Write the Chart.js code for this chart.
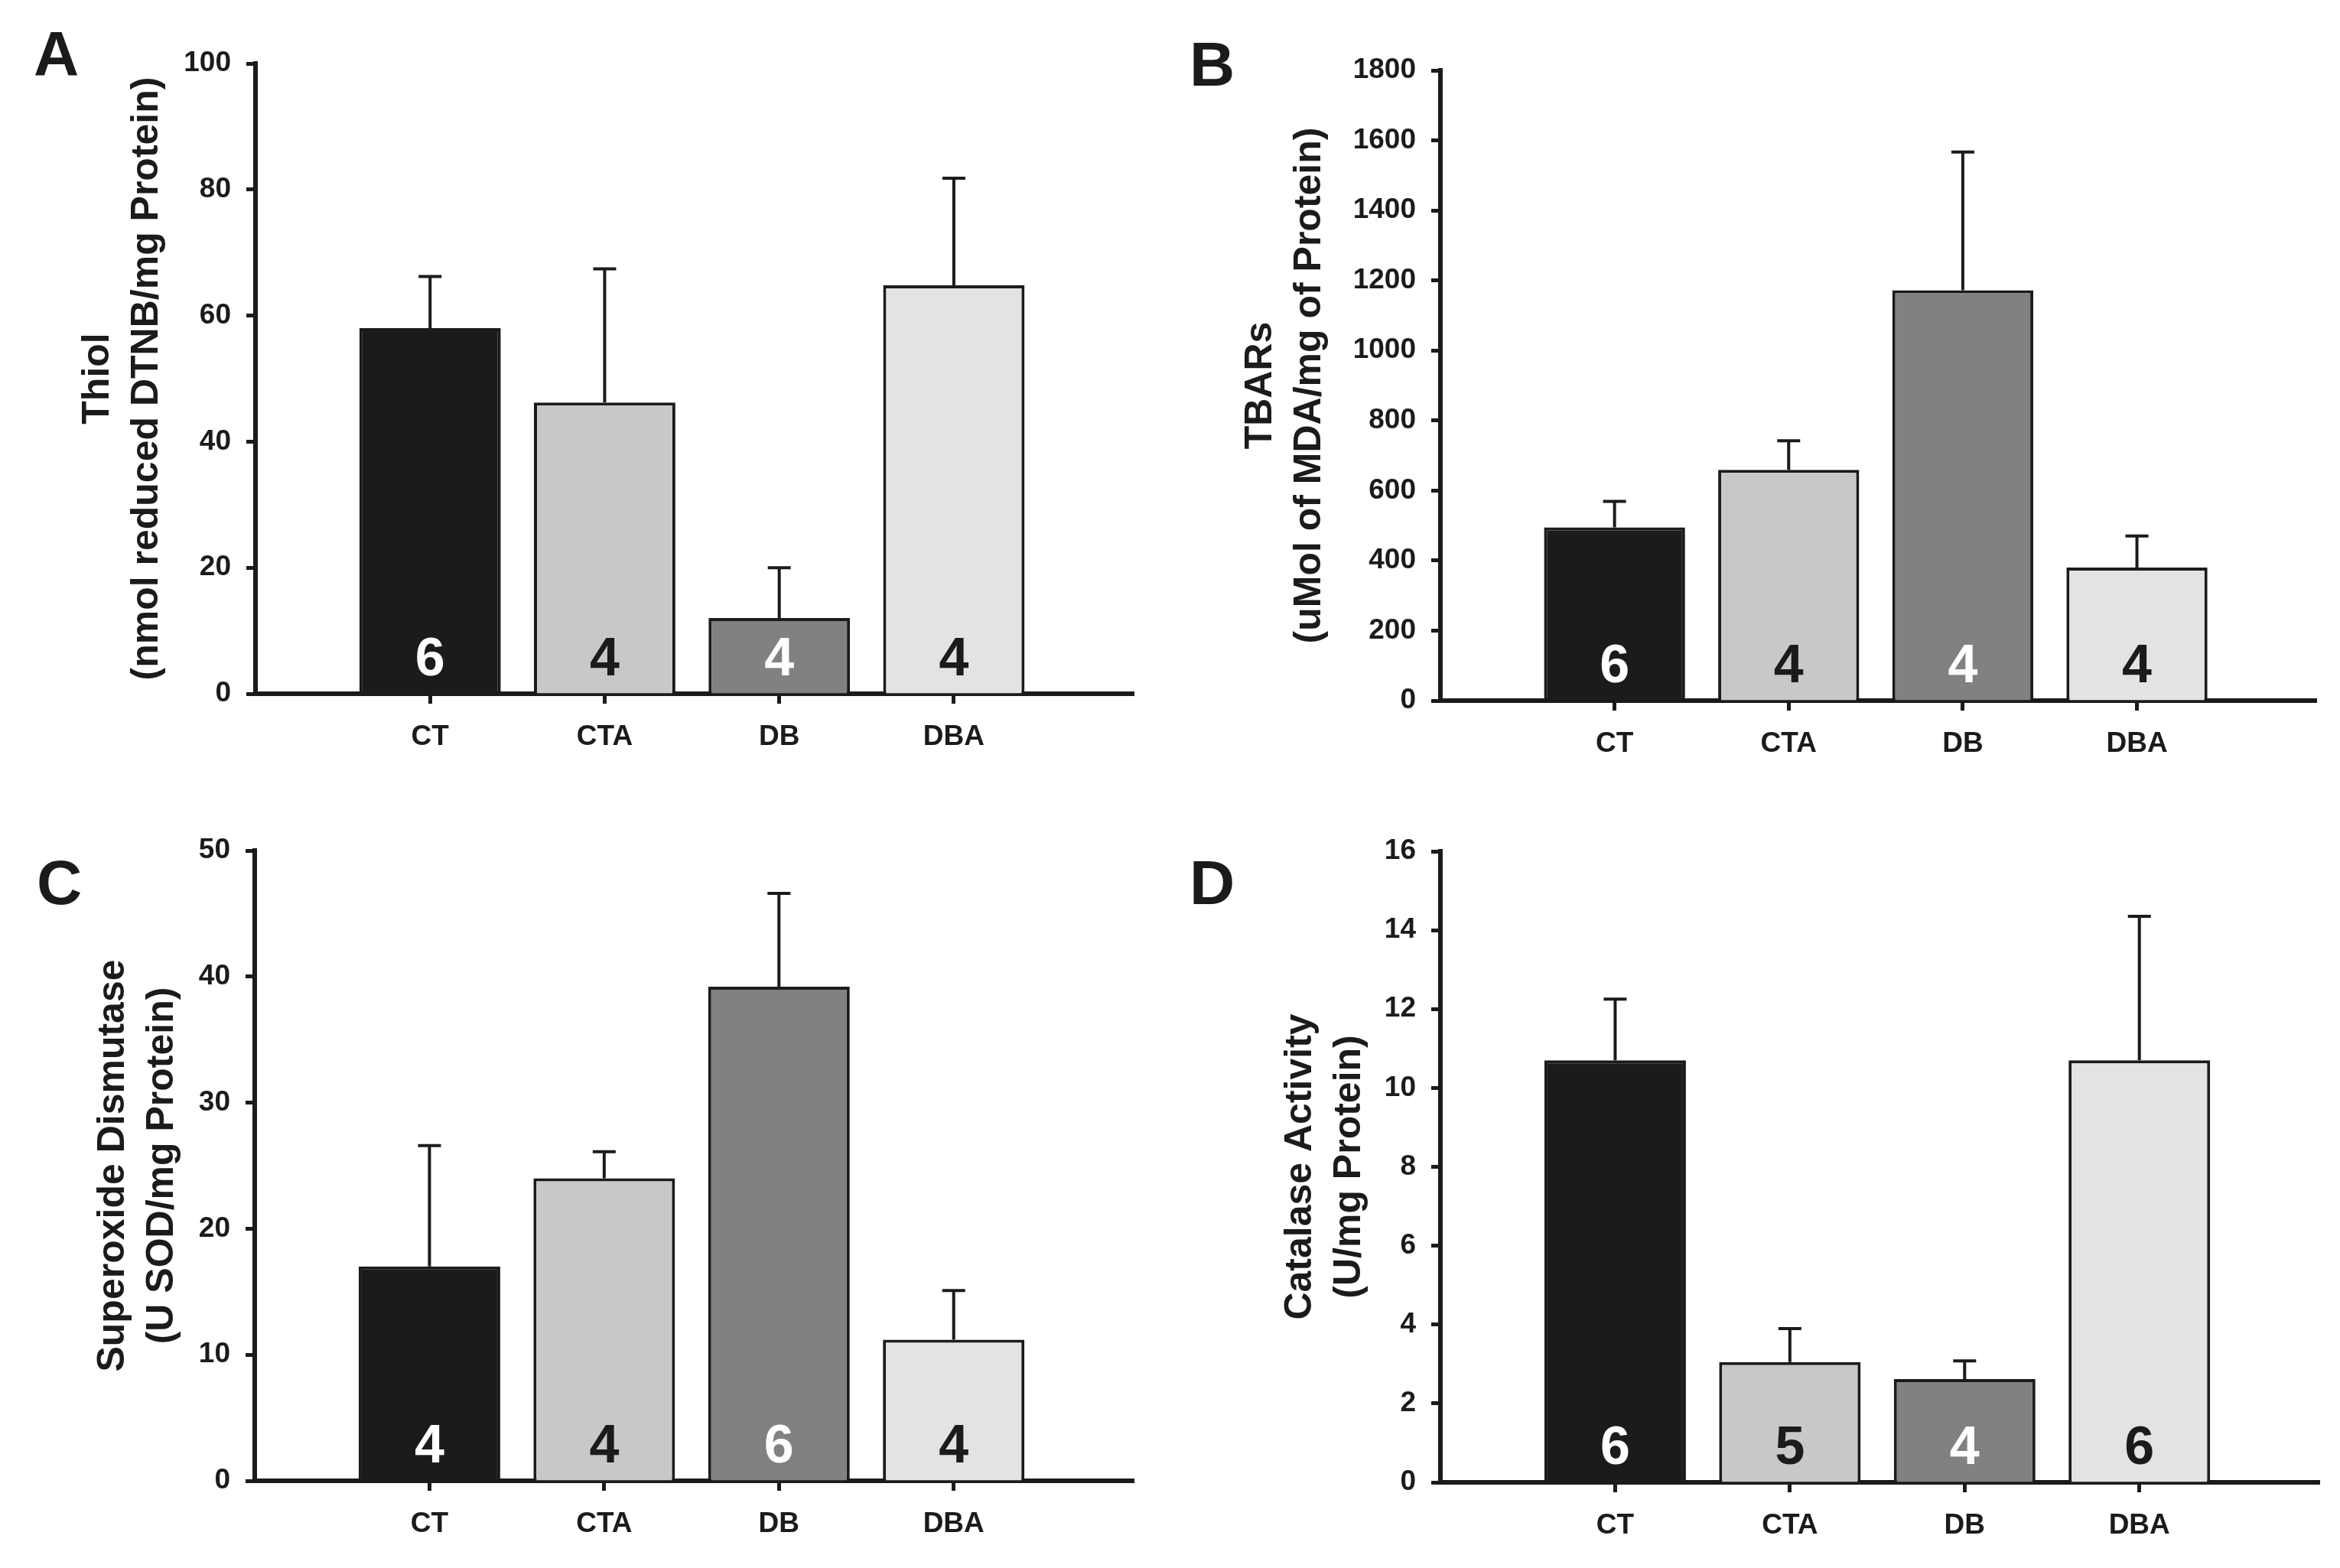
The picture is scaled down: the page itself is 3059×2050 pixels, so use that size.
<!DOCTYPE html>
<html><head><meta charset="utf-8">
<script src="https://cdn.jsdelivr.net/npm/chart.js@4.4.1/dist/chart.umd.min.js"></script>
<style>
html,body{margin:0;padding:0;background:#fff;}
body{width:3059px;height:2050px;position:relative;overflow:hidden;}
canvas{position:absolute;}
</style></head><body>
<canvas id="cA" width="1530" height="1025" style="left:0px;top:0px"></canvas>
<canvas id="cB" width="1529" height="1025" style="left:1530px;top:0px"></canvas>
<canvas id="cC" width="1530" height="1025" style="left:0px;top:1025px"></canvas>
<canvas id="cD" width="1529" height="1025" style="left:1530px;top:1025px"></canvas>
<script>
// ---- data ----
const categories = ['CT', 'CTA', 'DB', 'DBA'];

const thiolMean = [58.0, 46.2, 12.0, 64.8];
const thiolSem  = [8.2, 21.2, 8.0, 17.0];
const thiolN    = [6, 4, 4, 4];

const tbarsMean = [495, 659, 1172, 380];
const tbarsSem  = [74, 83, 395, 90];
const tbarsN    = [6, 4, 4, 4];

const sodMean = [17.0, 24.0, 39.2, 11.2];
const sodSem  = [9.6, 2.1, 7.4, 3.9];
const sodN    = [4, 4, 6, 4];

const catMean = [10.7, 3.05, 2.62, 10.7];
const catSem  = [1.55, 0.85, 0.46, 3.65];
const catN    = [6, 5, 4, 6];

const thiolTitle = ['Thiol', '(nmol reduced DTNB/mg Protein)'];
const tbarsTitle = ['TBARs', '(uMol of MDA/mg of Protein)'];
const sodTitle   = ['Superoxide Dismutase', '(U SOD/mg Protein)'];
const catTitle   = ['Catalase Activity', '(U/mg Protein)'];

const panelLetters = ['A', 'B', 'C', 'D'];

// ---- styles ----
const barColors = ['#1b1b1b', '#c8c8c8', '#818181', '#e3e3e5'];
const nColors   = ['#ffffff', '#1b1b1b', '#ffffff', '#1b1b1b'];
const ink = '#1b1b1b';
const FONT = '"Liberation Sans", Arial, sans-serif';

const panels = [
  {id:'cA', letter:panelLetters[0], title:thiolTitle, mean:thiolMean, sem:thiolSem, n:thiolN, max:100, step:20,
   area:{left:334, top:83, right:1482, bottom:907}, titlePad:96, letterPos:[44, 98]},
  {id:'cB', letter:panelLetters[1], title:tbarsTitle, mean:tbarsMean, sem:tbarsSem, n:tbarsN, max:1800, step:200,
   area:{left:353, top:92, right:1498, bottom:916}, titlePad:86, letterPos:[25, 112]},
  {id:'cC', letter:panelLetters[2], title:sodTitle, mean:sodMean, sem:sodSem, n:sodN, max:50, step:10,
   area:{left:333, top:87, right:1482, bottom:911}, titlePad:116, letterPos:[48, 157]},
  {id:'cD', letter:panelLetters[3], title:catTitle, mean:catMean, sem:catSem, n:catN, max:16, step:2,
   area:{left:353, top:88, right:1502, bottom:913}, titlePad:138, letterPos:[25, 157]},
];

function makeExtras(p) {
  return {
    id: 'extras_' + p.id,
    afterDatasetsDraw(chart) {
      const ctx = chart.ctx;
      const xs = chart.scales.x, ys = chart.scales.y;
      ctx.save();
      // error bars (upper only)
      ctx.strokeStyle = ink;
      ctx.lineWidth = 4;
      ctx.lineCap = 'butt';
      for (let i = 0; i < p.mean.length; i++) {
        const x = xs.getPixelForValue(i + 1);
        const y0 = ys.getPixelForValue(p.mean[i]);
        const y1 = ys.getPixelForValue(p.mean[i] + p.sem[i]);
        ctx.beginPath();
        ctx.moveTo(x, y0);
        ctx.lineTo(x, y1);
        ctx.moveTo(x - 15, y1);
        ctx.lineTo(x + 15, y1);
        ctx.stroke();
      }
      // n labels inside bars
      ctx.font = 'bold 70px ' + FONT;
      ctx.textAlign = 'center';
      ctx.textBaseline = 'alphabetic';
      const yb = ys.getPixelForValue(0);
      for (let i = 0; i < p.n.length; i++) {
        const x = xs.getPixelForValue(i + 1);
        ctx.fillStyle = nColors[i];
        ctx.fillText(String(p.n[i]), x, yb - 24);
      }
      // panel letter
      ctx.fillStyle = ink;
      ctx.font = 'bold 82px ' + FONT;
      ctx.textAlign = 'left';
      ctx.fillText(p.letter, p.letterPos[0], p.letterPos[1]);
      ctx.restore();
    }
  };
}

panels.forEach(p => {
  const cv = document.getElementById(p.id);
  const W = cv.width, H = cv.height;
  new Chart(cv.getContext('2d'), {
    type: 'bar',
    data: {
      datasets: [{
        data: categories.map((c, i) => ({x: i + 1, y: p.mean[i]})),
        backgroundColor: barColors,
        borderColor: ink,
        borderWidth: 4,
        borderSkipped: 'start',
        barPercentage: 0.81,
        categoryPercentage: 1.0
      }]
    },
    options: {
      responsive: false,
      animation: false,
      devicePixelRatio: 1,
      layout: {padding: {left: 0, top: p.area.top, right: W - p.area.right, bottom: 0}},
      plugins: {legend: {display: false}, tooltip: {enabled: false}},
      scales: {
        x: {
          type: 'linear', min: 0, max: 5.03, offset: false,
          afterBuildTicks: s => { s.ticks = categories.map((c, i) => ({value: i + 1})); },
          afterFit: s => { s.height = H - p.area.bottom; },
          ticks: {
            callback: v => categories[v - 1] || '',
            autoSkip: false, maxRotation: 0, minRotation: 0,
            font: {family: FONT, size: 37, weight: 'bold'}, color: ink, padding: 22
          },
          grid: {display: true, offset: false, drawOnChartArea: false, drawTicks: true,
                 tickLength: 13, tickWidth: 5, tickColor: ink},
          border: {display: true, width: 6, color: ink}
        },
        y: {
          min: 0, max: p.max,
          afterFit: s => { s.width = p.area.left; },
          ticks: {stepSize: p.step, callback: v => String(v),
                  font: {family: FONT, size: 37, weight: 'bold'}, color: ink, padding: 20},
          grid: {display: true, drawOnChartArea: false, drawTicks: true,
                 tickLength: 12, tickWidth: 5, tickColor: ink},
          border: {display: true, width: 6, color: ink},
          title: {display: true, text: p.title, color: ink,
                  font: {family: FONT, size: 50, weight: 'bold', lineHeight: 1.28},
                  padding: {top: p.titlePad, bottom: 0}}
        }
      }
    },
    plugins: [makeExtras(p)]
  });
});
</script>
</body></html>
